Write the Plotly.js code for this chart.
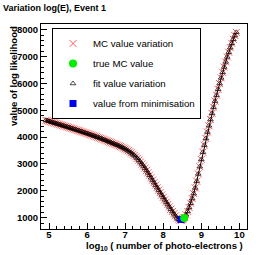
<!DOCTYPE html>
<html><head><meta charset="utf-8">
<script src="https://cdn.plot.ly/plotly-3.0.1.min.js"></script>
<style>html,body{margin:0;padding:0;background:#fff}#c{width:267px;height:255px}</style>
</head><body><div id="c"></div>
<script>
const logE = [4.92,4.96,5.00,5.04,5.08,5.12,5.16,5.20,5.24,5.28,
5.32,5.36,5.40,5.44,5.48,5.52,5.56,5.60,5.64,5.68,
5.72,5.76,5.80,5.84,5.88,5.92,5.96,6.00,6.04,6.08,
6.12,6.16,6.20,6.24,6.28,6.32,6.36,6.40,6.44,6.48,
6.52,6.56,6.60,6.64,6.68,6.72,6.76,6.80,6.84,6.88,
6.92,6.96,7.00,7.04,7.08,7.12,7.16,7.20,7.24,7.28,
7.32,7.36,7.40,7.44,7.48,7.52,7.56,7.60,7.64,7.68,
7.72,7.76,7.80,7.84,7.88,7.92,7.96,8.00,8.04,8.08,
8.12,8.16,8.20,8.24,8.28,8.32,8.36,8.40,8.44,8.48,
8.52,8.56,8.60,8.64,8.68,8.72,8.76,8.80,8.84,8.88,
8.92,8.96,9.00,9.04,9.08,9.12,9.16,9.20,9.24,9.28,
9.32,9.36,9.40,9.44,9.48,9.52,9.56,9.60,9.64,9.68,
9.72,9.76,9.80,9.84,9.88,9.92];
const mcValues = [4625,4607,4590,4572,4555,4537,4520,4502,4485,4467,
4450,4432,4414,4396,4378,4360,4342,4324,4306,4288,
4269,4250,4231,4212,4193,4174,4155,4136,4116,4096,
4076,4056,4036,4015,3994,3973,3952,3930,3908,3886,
3863,3840,3816,3792,3767,3745,3723,3700,3676,3650,
3622,3592,3560,3527,3492,3455,3414,3370,3322,3268,
3208,3143,3073,3000,2924,2844,2760,2672,2582,2490,
2398,2305,2212,2120,2028,1937,1847,1757,1668,1580,
1492,1404,1317,1231,1148,1068,997,942,908,902,
935,1010,1110,1235,1380,1540,1715,1900,2110,2360,
2630,2900,3170,3440,3700,3950,4190,4425,4655,4885,
5115,5340,5560,5780,5995,6205,6410,6610,6800,6985,
7160,7330,7490,7640,7780,7900];
const fitValues = mcValues.slice();
const trueMC = {x:[8.55], y:[985]};
const minimisation = {x:[8.47], y:[935]};
const seriesNames = ["MC value variation","true MC value","fit value variation","value from minimisation"];

const fam = "Liberation Sans, Arial, Helvetica, sans-serif";
const mcTrace = {x:logE, y:mcValues, name:seriesNames[0], type:'scatter', mode:'markers', legendgroup:'a', legendrank:1,
   marker:{symbol:'x-thin-open', size:7, color:'#ff3030', line:{color:'#ff3030', width:0.8}}};
const fitLine = {x:logE, y:fitValues, type:'scatter', mode:'lines', showlegend:false, hoverinfo:'skip',
   line:{color:'#000', width:1}};
const fitTrace = {x:logE, y:fitValues, name:seriesNames[2], type:'scatter', mode:'markers', legendgroup:'c', legendrank:3,
   marker:{symbol:'triangle-up-open', size:5, color:'#000', line:{color:'#000', width:0.7}}};
const minTrace = {x:minimisation.x, y:minimisation.y, name:seriesNames[3], type:'scatter', mode:'markers', legendgroup:'d', legendrank:4,
   marker:{symbol:'square', size:7, color:'#0000ee'}};
const trueTrace = {x:trueMC.x, y:trueMC.y, name:seriesNames[1], type:'scatter', mode:'markers', legendgroup:'b', legendrank:2,
   marker:{symbol:'circle', size:8, color:'#00ee00'}};

const axFont = {family:fam, size:9.5, color:'#000', weight:'bold'};
const layout = {
  width:267, height:255,
  margin:{l:41, r:20, t:24, b:26},
  paper_bgcolor:'#fff', plot_bgcolor:'#fff',
  showlegend:true,
  title:{text:'Variation log(E), Event 1', font:{family:fam, size:9, color:'#000', weight:'bold'},
         x:3/267, xanchor:'left', xref:'container', y:1-7.5/255, yanchor:'middle', yref:'container'},
  xaxis:{range:[4.79,10.2], dtick:1, tick0:5, ticks:'inside', ticklen:6, tickwidth:1, tickcolor:'#000',
         showline:true, linecolor:'#000', linewidth:1, mirror:true, showgrid:false, zeroline:false,
         tickfont:axFont, ticklabelstandoff:-3,
         minor:{dtick:0.2, ticks:'inside', ticklen:3, tickcolor:'#000', showgrid:false}},
  yaxis:{range:[580,8210], dtick:1000, tick0:0, ticks:'inside', ticklen:6, tickwidth:1, tickcolor:'#000',
         showline:true, linecolor:'#000', linewidth:1, mirror:true, showgrid:false, zeroline:false,
         tickfont:axFont,
         minor:{dtick:200, ticks:'inside', ticklen:3, tickcolor:'#000', showgrid:false}},
  legend:{x:(52-41)/206, y:(229-28)/205, xanchor:'left', yanchor:'top', xref:'paper', yref:'paper',
          bgcolor:'#fff', bordercolor:'#000', borderwidth:1, tracegroupgap:1,
          traceorder:'grouped', font:{family:fam, size:9.7, color:'#000'}},
  annotations:[
    {text:'value of log likelihood', xref:'paper', yref:'paper', x:(13-41)/206, y:1, xanchor:'center', yanchor:'top',
     textangle:-90, showarrow:false, font:axFont},
    {text:'log<sub>10</sub> ( number of photo-electrons )', xref:'paper', yref:'paper', x:(245-41)/206, y:(229-246)/205,
     xanchor:'right', yanchor:'middle', showarrow:false, font:axFont}
  ]
};
Plotly.newPlot('c', [mcTrace, fitLine, fitTrace, minTrace, trueTrace], layout, {staticPlot:true, displayModeBar:false});
</script></body></html>
